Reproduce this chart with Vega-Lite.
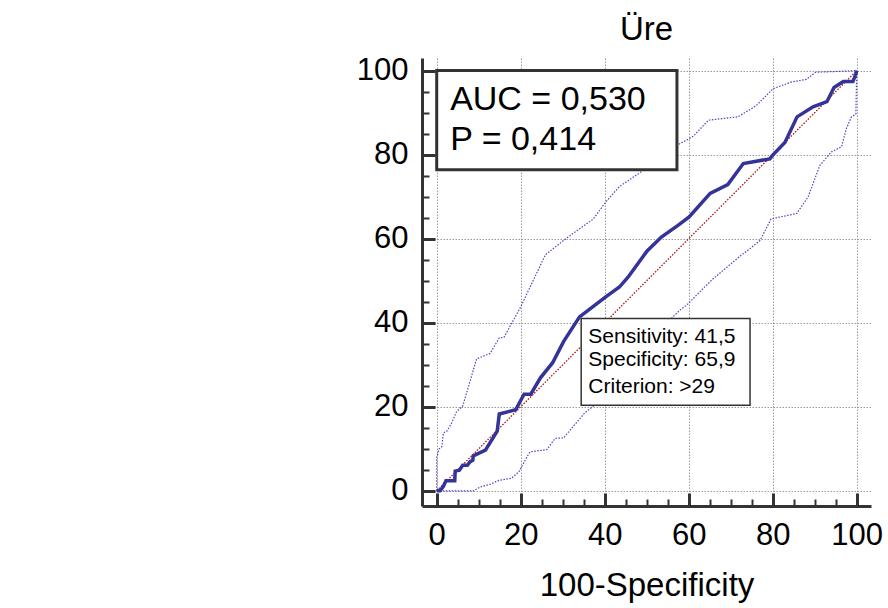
{
  "$schema": "https://vega.github.io/schema/vega-lite/v6.json",
  "width": 449,
  "height": 448,
  "autosize": {"type": "none"},
  "padding": {"left": 422, "top": 58, "right": 17, "bottom": 102},
  "background": "white",
  "config": {
    "view": {"stroke": null},
    "font": "Liberation Sans"
  },
  "title": {
    "text": "Üre",
    "font": "Liberation Sans",
    "fontSize": 33,
    "fontWeight": "normal",
    "color": "black",
    "anchor": "middle",
    "frame": "group",
    "baseline": "alphabetic",
    "offset": -18
  },
  "encoding": {
    "x": {
      "field": "x",
      "type": "quantitative",
      "scale": {"domain": [-3.5, 103.4], "nice": false, "zero": false},
      "title": "100-Specificity",
      "axis": {
        "values": [0, 5, 10, 15, 20, 25, 30, 35, 40, 45, 50, 55, 60, 65, 70, 75, 80, 85, 90, 95, 100],
        "labelExpr": "datum.value % 20 === 0 ? datum.label : ''",
        "labelFont": "Liberation Sans",
        "labelFontSize": 31,
        "labelColor": "black",
        "labelPadding": 27,
        "labelFlush": false,
        "labelOverlap": false,
        "tickSize": {"condition": {"test": "datum.value % 20 === 0", "value": -13}, "value": -7},
        "tickWidth": {"condition": {"test": "datum.value % 20 === 0", "value": 3}, "value": 2},
        "tickColor": "#333333",
        "domainColor": "#333333",
        "domainWidth": 3,
        "grid": true,
        "gridColor": "#9a9a9a",
        "gridDash": [1.5, 1.5],
        "gridWidth": 1,
        "gridOpacity": {"condition": {"test": "datum.value % 20 === 0", "value": 1}, "value": 0},
        "titleFont": "Liberation Sans",
        "titleFontSize": 33,
        "titleFontWeight": "normal",
        "titleColor": "black",
        "titlePadding": 13
      }
    },
    "y": {
      "field": "y",
      "type": "quantitative",
      "scale": {"domain": [-3.6, 103], "nice": false, "zero": false},
      "title": null,
      "axis": {
        "values": [0, 5, 10, 15, 20, 25, 30, 35, 40, 45, 50, 55, 60, 65, 70, 75, 80, 85, 90, 95, 100],
        "labelExpr": "datum.value % 20 === 0 ? datum.label : ''",
        "labelFont": "Liberation Sans",
        "labelFontSize": 31,
        "labelColor": "black",
        "labelPadding": 27,
        "labelFlush": false,
        "labelOverlap": false,
        "tickSize": {"condition": {"test": "datum.value % 20 === 0", "value": -13}, "value": -7},
        "tickWidth": {"condition": {"test": "datum.value % 20 === 0", "value": 3}, "value": 2},
        "tickColor": "#333333",
        "domainColor": "#333333",
        "domainWidth": 3,
        "grid": true,
        "gridColor": "#9a9a9a",
        "gridDash": [1.5, 1.5],
        "gridWidth": 1,
        "gridOpacity": {"condition": {"test": "datum.value % 20 === 0", "value": 1}, "value": 0}
      }
    }
  },
  "layer": [
    {
      "data": {"values": [{"x": 0, "y": 0}, {"x": 100, "y": 100}]},
      "mark": {"type": "line", "color": "#a01818", "strokeWidth": 1.3, "strokeDash": [1.5, 1.5]},
      "encoding": {}
    },
    {
      "data": {"values": [
        {"band": "upper", "i": 0, "x": 0, "y": 0},
        {"band": "upper", "i": 1, "x": 0, "y": 8},
        {"band": "upper", "i": 2, "x": 0.6, "y": 10},
        {"band": "upper", "i": 3, "x": 1.2, "y": 10.5},
        {"band": "upper", "i": 4, "x": 1.6, "y": 13.8},
        {"band": "upper", "i": 5, "x": 2.4, "y": 14.2},
        {"band": "upper", "i": 6, "x": 3.5, "y": 16},
        {"band": "upper", "i": 7, "x": 4.7, "y": 18.8},
        {"band": "upper", "i": 8, "x": 6.2, "y": 20.2},
        {"band": "upper", "i": 9, "x": 9.5, "y": 31.4},
        {"band": "upper", "i": 10, "x": 12.7, "y": 32.7},
        {"band": "upper", "i": 11, "x": 14.9, "y": 36.4},
        {"band": "upper", "i": 12, "x": 16.0, "y": 36.5},
        {"band": "upper", "i": 13, "x": 20.0, "y": 43.8},
        {"band": "upper", "i": 14, "x": 25.9, "y": 56.2},
        {"band": "upper", "i": 15, "x": 31.0, "y": 60.2},
        {"band": "upper", "i": 16, "x": 37.3, "y": 64.7},
        {"band": "upper", "i": 17, "x": 40.3, "y": 68.8},
        {"band": "upper", "i": 18, "x": 43.5, "y": 72.4},
        {"band": "upper", "i": 19, "x": 46.0, "y": 74.1},
        {"band": "upper", "i": 20, "x": 48.5, "y": 75.8},
        {"band": "upper", "i": 21, "x": 57.7, "y": 82.5},
        {"band": "upper", "i": 22, "x": 61.0, "y": 84.3},
        {"band": "upper", "i": 23, "x": 64.7, "y": 88.2},
        {"band": "upper", "i": 24, "x": 71.7, "y": 89.0},
        {"band": "upper", "i": 25, "x": 76.0, "y": 91.6},
        {"band": "upper", "i": 26, "x": 80.1, "y": 95.7},
        {"band": "upper", "i": 27, "x": 84.5, "y": 97.3},
        {"band": "upper", "i": 28, "x": 88.0, "y": 97.9},
        {"band": "upper", "i": 29, "x": 90.2, "y": 99.6},
        {"band": "upper", "i": 30, "x": 100, "y": 100},
        {"band": "lower", "i": 0, "x": 0, "y": 0},
        {"band": "lower", "i": 1, "x": 8.7, "y": 0},
        {"band": "lower", "i": 2, "x": 10.3, "y": 0.9},
        {"band": "lower", "i": 3, "x": 12.8, "y": 1.6},
        {"band": "lower", "i": 4, "x": 14.8, "y": 2.5},
        {"band": "lower", "i": 5, "x": 17.8, "y": 3.0},
        {"band": "lower", "i": 6, "x": 19.6, "y": 4.6},
        {"band": "lower", "i": 7, "x": 21.9, "y": 8.8},
        {"band": "lower", "i": 8, "x": 22.3, "y": 9.3},
        {"band": "lower", "i": 9, "x": 26.2, "y": 9.8},
        {"band": "lower", "i": 10, "x": 28.2, "y": 12.5},
        {"band": "lower", "i": 11, "x": 30.2, "y": 12.6},
        {"band": "lower", "i": 12, "x": 35.2, "y": 18.5},
        {"band": "lower", "i": 13, "x": 37.3, "y": 20.2},
        {"band": "lower", "i": 14, "x": 41.3, "y": 26.0},
        {"band": "lower", "i": 15, "x": 47.6, "y": 35.3},
        {"band": "lower", "i": 16, "x": 55.1, "y": 40.3},
        {"band": "lower", "i": 17, "x": 57.9, "y": 43.0},
        {"band": "lower", "i": 18, "x": 59.5, "y": 44.2},
        {"band": "lower", "i": 19, "x": 65.5, "y": 50.2},
        {"band": "lower", "i": 20, "x": 69.2, "y": 53.3},
        {"band": "lower", "i": 21, "x": 72.4, "y": 56.0},
        {"band": "lower", "i": 22, "x": 74.3, "y": 57.4},
        {"band": "lower", "i": 23, "x": 77.0, "y": 59.6},
        {"band": "lower", "i": 24, "x": 79.6, "y": 64.7},
        {"band": "lower", "i": 25, "x": 85.7, "y": 66.0},
        {"band": "lower", "i": 26, "x": 88.4, "y": 69.9},
        {"band": "lower", "i": 27, "x": 91.2, "y": 77.4},
        {"band": "lower", "i": 28, "x": 93.9, "y": 80.6},
        {"band": "lower", "i": 29, "x": 96.4, "y": 81.9},
        {"band": "lower", "i": 30, "x": 97.5, "y": 86.1},
        {"band": "lower", "i": 31, "x": 98.7, "y": 88.9},
        {"band": "lower", "i": 32, "x": 99.8, "y": 89.7},
        {"band": "lower", "i": 33, "x": 100, "y": 100}
      ]},
      "mark": {"type": "line", "color": "#4646c8", "strokeWidth": 1.2, "strokeDash": [1.5, 1.5]},
      "encoding": {
        "detail": {"field": "band", "type": "nominal"},
        "order": {"field": "i", "type": "quantitative"}
      }
    },
    {
      "data": {"values": [
        {"i": 0, "x": 0, "y": 0},
        {"i": 1, "x": 0.8, "y": 0},
        {"i": 2, "x": 1.6, "y": 1.1},
        {"i": 3, "x": 2.2, "y": 2.4},
        {"i": 4, "x": 4.3, "y": 2.4},
        {"i": 5, "x": 4.4, "y": 4.7},
        {"i": 6, "x": 5.4, "y": 4.9},
        {"i": 7, "x": 6.2, "y": 6.1},
        {"i": 8, "x": 7.3, "y": 6.1},
        {"i": 9, "x": 7.9, "y": 6.9},
        {"i": 10, "x": 8.6, "y": 7.3},
        {"i": 11, "x": 8.7, "y": 8.3},
        {"i": 12, "x": 11.6, "y": 9.7},
        {"i": 13, "x": 14.4, "y": 14.2},
        {"i": 14, "x": 14.9, "y": 18.3},
        {"i": 15, "x": 18.8, "y": 19.3},
        {"i": 16, "x": 20.8, "y": 23.0},
        {"i": 17, "x": 22.4, "y": 23.0},
        {"i": 18, "x": 24.7, "y": 26.9},
        {"i": 19, "x": 27.6, "y": 30.5},
        {"i": 20, "x": 30.2, "y": 35.5},
        {"i": 21, "x": 34.0, "y": 41.4},
        {"i": 22, "x": 36.9, "y": 43.6},
        {"i": 23, "x": 40.0, "y": 46.0},
        {"i": 24, "x": 43.5, "y": 48.5},
        {"i": 25, "x": 45.6, "y": 50.9},
        {"i": 26, "x": 50.1, "y": 57.1},
        {"i": 27, "x": 53.5, "y": 60.4},
        {"i": 28, "x": 57.6, "y": 63.3},
        {"i": 29, "x": 60.1, "y": 65.2},
        {"i": 30, "x": 65.1, "y": 70.8},
        {"i": 31, "x": 69.3, "y": 72.9},
        {"i": 32, "x": 73.0, "y": 77.9},
        {"i": 33, "x": 79.3, "y": 79.0},
        {"i": 34, "x": 80.0, "y": 79.9},
        {"i": 35, "x": 82.9, "y": 82.9},
        {"i": 36, "x": 85.8, "y": 89.0},
        {"i": 37, "x": 89.6, "y": 91.4},
        {"i": 38, "x": 92.9, "y": 92.6},
        {"i": 39, "x": 94.6, "y": 96.0},
        {"i": 40, "x": 96.8, "y": 97.4},
        {"i": 41, "x": 99.1, "y": 97.4},
        {"i": 42, "x": 99.8, "y": 99.2},
        {"i": 43, "x": 100, "y": 100}
      ]},
      "mark": {"type": "line", "color": "#333399", "strokeWidth": 3.5, "strokeJoin": "miter"},
      "encoding": {
        "order": {"field": "i", "type": "quantitative"}
      }
    },
    {
      "data": {"values": [
        {"box": "auc", "x": 0, "x2": 57.2, "y": 76.4, "y2": 100},
        {"box": "cut", "x": 34.4, "x2": 74.6, "y": 20.4, "y2": 41.0}
      ]},
      "mark": {"type": "rect", "fill": "white", "stroke": "#333333"},
      "encoding": {
        "x2": {"field": "x2"},
        "y2": {"field": "y2"},
        "strokeWidth": {
          "field": "box", "type": "nominal", "legend": null,
          "scale": {"domain": ["auc", "cut"], "range": [3, 1.5]}
        }
      }
    },
    {
      "data": {"values": [
        {"label": "AUC = 0,530", "x": 3.2, "y": 90.6},
        {"label": "P = 0,414", "x": 3.2, "y": 81.1}
      ]},
      "mark": {"type": "text", "align": "left", "baseline": "alphabetic", "fontSize": 34, "font": "Liberation Sans", "color": "black"},
      "encoding": {"text": {"field": "label"}}
    },
    {
      "data": {"values": [
        {"label": "Sensitivity: 41,5", "x": 36.1, "y": 35.1},
        {"label": "Specificity: 65,9", "x": 36.1, "y": 29.6},
        {"label": "Criterion: >29", "x": 36.1, "y": 23.3}
      ]},
      "mark": {"type": "text", "align": "left", "baseline": "alphabetic", "fontSize": 21, "font": "Liberation Sans", "color": "black"},
      "encoding": {"text": {"field": "label"}}
    }
  ]
}
